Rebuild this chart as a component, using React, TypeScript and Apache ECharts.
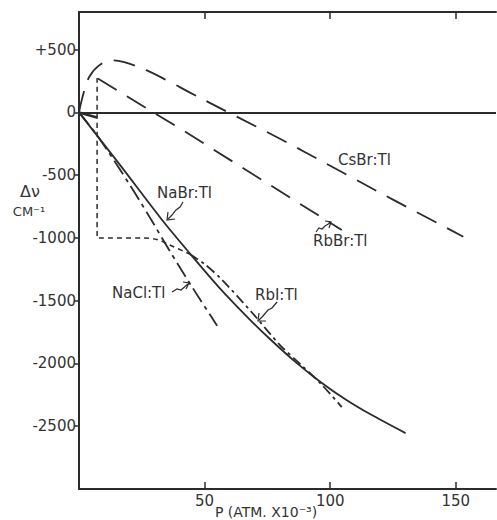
import React, { useEffect, useRef } from "react";
import * as echarts from "echarts";

// Tick values
const xTickValues = [50, 100, 150];
const yTickValues = [500, 0, -500, -1000, -1500, -2000, -2500];

// Curves: [P (atm x 10^-3), delta nu (cm^-1)]
const csbrPoints = [
  [0, 0], [1.5, 130], [4, 280], [8, 375], [13, 415], [18, 400], [27, 335],
  [36, 245], [44, 160], [59, 5], [80, -210], [100, -425], [125, -695], [153, -990],
];
const rbbrPoints = [
  [7.5, 270], [28, 20], [42, -150], [67, -465], [104.6, -937],
];
const transitionPoints = [
  [7.2, 275], [7.2, -1000], [26, -1000], [31, -1012], [36, -1055], [44, -1128],
];
const rbiLowPoints = [
  [0, 0], [7.2, -40],
];
const rbiPoints = [
  [44, -1128], [50, -1208], [57, -1335], [69, -1598], [80, -1853],
  [88, -2004], [96, -2156], [104.6, -2347],
];
const nabrPoints = [
  [0, 0], [16, -410], [33, -855], [44, -1120], [56, -1399], [68, -1650],
  [76, -1805], [86, -1985], [96, -2145], [106, -2285], [116, -2405], [130, -2555],
];
const naclPoints = [
  [0, 0], [8, -205], [20, -570], [28, -830], [36, -1100], [45, -1390], [55, -1700],
];

const INK = "#2b2b2b";
const FONT = '"DejaVu Sans", sans-serif';

function lineSeries(name: string, data: number[][], type: any, smooth: number | boolean, width = 1.8) {
  return {
    name,
    type: "line",
    data,
    showSymbol: false,
    symbol: "none",
    smooth,
    lineStyle: { color: INK, width, type },
    silent: true,
  };
}

function txt(text: string, x: number, y: number, size: number, align = "left") {
  return {
    type: "text",
    x,
    y,
    silent: true,
    style: {
      text,
      fill: "#333",
      font: `${size}px ${FONT}`,
      fontSize: size,
      fontFamily: FONT,
      align,
      verticalAlign: "middle",
      textAlign: align,
      textVerticalAlign: "middle",
    },
  };
}

function pl(points: number[][]) {
  return {
    type: "polyline",
    silent: true,
    shape: { points },
    style: { stroke: INK, lineWidth: 1.2, fill: null },
  };
}

export default function App() {
  const ref = useRef<HTMLDivElement>(null);
  useEffect(() => {
    const chart = echarts.init(ref.current!, null, { renderer: "svg" });
    const axisLine = { show: true, onZero: false, lineStyle: { color: INK, width: 2 } };
    chart.setOption({
      animation: false,
      backgroundColor: "#ffffff",
      grid: { left: 79, right: 1, top: 12, bottom: 31, containLabel: false },
      xAxis: [
        {
          type: "value",
          min: 0,
          max: 166,
          position: "bottom",
          axisLine,
          axisTick: { show: true, inside: true, length: 7, customValues: xTickValues, lineStyle: { color: INK, width: 1.5 } },
          axisLabel: { show: true, customValues: xTickValues, margin: 4, fontSize: 15, fontFamily: FONT, color: "#333" },
          splitLine: { show: false },
        },
        {
          type: "value",
          min: 0,
          max: 166,
          position: "top",
          axisLine,
          axisTick: { show: true, inside: true, length: 7, customValues: xTickValues, lineStyle: { color: INK, width: 1.5 } },
          axisLabel: { show: false },
          splitLine: { show: false },
        },
      ],
      yAxis: {
        type: "value",
        min: -3000,
        max: 800,
        axisLine,
        axisTick: { show: true, inside: false, length: 5, customValues: yTickValues, lineStyle: { color: INK, width: 1.5 } },
        axisLabel: {
          show: true,
          customValues: yTickValues,
          margin: 3,
          fontSize: 15,
          fontFamily: FONT,
          color: "#333",
          formatter: (v: number) => (v > 0 ? "+" + v : String(v)),
        },
        splitLine: { show: false },
      },
      series: [
        {
          ...lineSeries("CsBr:Tl", csbrPoints, [22, 12], 0.4),
          markLine: {
            silent: true,
            symbol: "none",
            label: { show: false },
            lineStyle: { color: INK, width: 2, type: "solid" },
            data: [{ yAxis: 0 }],
          },
        },
        lineSeries("RbBr:Tl", rbbrPoints, [22, 12], false),
        lineSeries("transition", transitionPoints, [5, 4], 0.3, 1.5),
        lineSeries("RbI low", rbiLowPoints, "solid", false, 2.5),
        lineSeries("RbI:Tl", rbiPoints, [10, 4, 3, 4], 0.3),
        lineSeries("NaBr:Tl", nabrPoints, "solid", 0.3),
        lineSeries("NaCl:Tl", naclPoints, [16, 5, 4, 5], 0.3),
      ],
      graphic: [
        txt("CsBr:Tl", 338, 160, 15),
        txt("RbBr:Tl", 313, 241, 15),
        txt("NaBr:Tl", 157, 193, 15),
        txt("NaCl:Tl", 112, 293, 15),
        txt("RbI:Tl", 255, 295, 15),
        txt("Δν", 30, 191, 16, "center"),
        txt("CM⁻¹", 29, 211, 13, "center"),
        txt("P (ATM. X10⁻³)", 266, 512, 14, "center"),
        pl([[183, 202], [180, 207], [176, 210], [172, 215], [168, 219]]),
        pl([[168, 212], [167, 220], [175, 219]]),
        pl([[316, 232], [319, 228], [322, 229], [325, 226], [330, 223]]),
        pl([[325, 221], [331, 222], [329, 228]]),
        pl([[172, 292], [177, 289], [181, 290], [188, 284]]),
        pl([[183, 282], [189, 283], [186, 289]]),
        pl([[277, 302], [272, 308], [268, 310], [263, 316], [259, 320]]),
        pl([[259, 313], [258, 321], [266, 321]]),
      ],
    });
    return () => chart.dispose();
  }, []);
  return (
    <div
      ref={ref}
      style={{ position: "fixed", left: 0, top: 0, width: 497, height: 520, background: "#fff" }}
    />
  );
}
